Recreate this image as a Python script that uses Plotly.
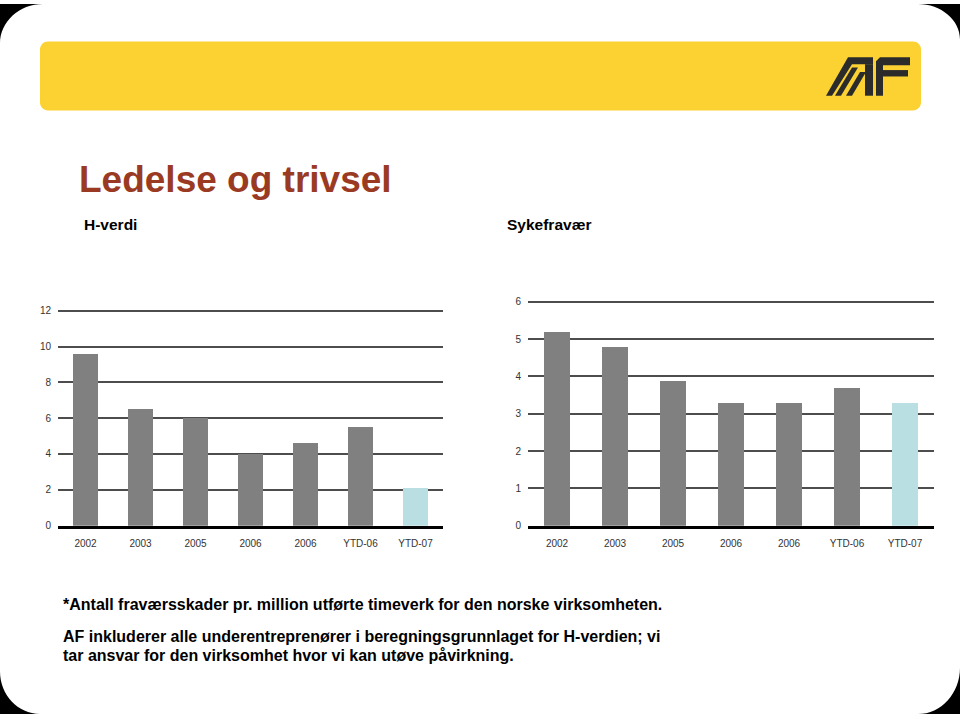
import plotly.graph_objects as go

# ---------------- data ----------------
categories = ["2002", "2003", "2005", "2006", "2006", "YTD-06", "YTD-07"]
h_verdi = [9.6, 6.5, 6.0, 4.0, 4.6, 5.5, 2.1]
sykefravaer = [5.2, 4.8, 3.9, 3.3, 3.3, 3.7, 3.3]
h_ticks = [0, 2, 4, 6, 8, 10, 12]
s_ticks = [0, 1, 2, 3, 4, 5, 6]

W, H = 960, 720
GRAY = "#808080"
BLUE = "#b9dfe3"
bar_colors = [GRAY] * (len(categories) - 1) + [BLUE]
positions = list(range(len(categories)))


def px(x):
    return x / W


def py(y):
    return 1 - y / H


def path(points):
    return "M " + " L ".join(f"{px(x):.5f},{py(y):.5f}" for x, y in points) + " Z"


fig = go.Figure()
fig.add_trace(go.Bar(x=positions, y=h_verdi, marker=dict(color=bar_colors, line=dict(width=0)),
                     width=0.46, xaxis="x", yaxis="y", hoverinfo="skip"))
fig.add_trace(go.Bar(x=positions, y=sykefravaer, marker=dict(color=bar_colors, line=dict(width=0)),
                     width=0.45, xaxis="x2", yaxis="y2", hoverinfo="skip"))

tickfont = dict(family="Liberation Sans, Arial, sans-serif", size=10, color="#333333")

# left chart geometry (pixels)
l_x0, l_x1, l_zero = 58, 443, 529
l_ppu = (529 - 311) / 12
l_top_val = 12.1
r_x0, r_x1, r_zero = 528, 934, 529
r_ppu = (529 - 302) / 6
r_top_val = 6.06

common_x = dict(range=[-0.5, 6.5], tickmode="array", tickvals=positions, ticktext=categories,
                showgrid=False, zeroline=False, showline=True, linecolor="#000000", linewidth=3,
                ticks="", tickfont=tickfont, ticklabelstandoff=6, fixedrange=True)
common_y = dict(showgrid=True, gridcolor="#4d4d4d", gridwidth=1.5, zeroline=False, showline=False,
                ticks="", tickfont=tickfont, ticklabelstandoff=6, tickmode="array", fixedrange=True)

fig.update_layout(
    width=W, height=H, margin=dict(l=0, r=0, t=0, b=0),
    paper_bgcolor="white", plot_bgcolor="white", showlegend=False, bargap=0,
    xaxis=dict(domain=[px(l_x0), px(l_x1)], anchor="y", **common_x),
    yaxis=dict(domain=[py(l_zero), py(l_zero - l_top_val * l_ppu)], anchor="x",
               range=[0, l_top_val], tickvals=h_ticks, **common_y),
    xaxis2=dict(domain=[px(r_x0), px(r_x1)], anchor="y2", **common_x),
    yaxis2=dict(domain=[py(r_zero), py(r_zero - r_top_val * r_ppu)], anchor="x2",
                range=[0, r_top_val], tickvals=s_ticks, **common_y),
)

shapes = []
# yellow banner with rounded corners
bx0, by0, bx1, by1, rr = 40, 38, 921, 108, 8
k = 0.55
banner = (f"M {px(bx0 + rr)},{py(by0)} L {px(bx1 - rr)},{py(by0)} "
          f"C {px(bx1 - rr + rr * k)},{py(by0)} {px(bx1)},{py(by0 + rr - rr * k)} {px(bx1)},{py(by0 + rr)} "
          f"L {px(bx1)},{py(by1 - rr)} "
          f"C {px(bx1)},{py(by1 - rr + rr * k)} {px(bx1 - rr + rr * k)},{py(by1)} {px(bx1 - rr)},{py(by1)} "
          f"L {px(bx0 + rr)},{py(by1)} "
          f"C {px(bx0 + rr - rr * k)},{py(by1)} {px(bx0)},{py(by1 - rr + rr * k)} {px(bx0)},{py(by1 - rr)} "
          f"L {px(bx0)},{py(by0 + rr)} "
          f"C {px(bx0)},{py(by0 + rr - rr * k)} {px(bx0 + rr - rr * k)},{py(by0)} {px(bx0 + rr)},{py(by0)} Z")
shapes.append(dict(type="path", xref="paper", yref="paper", path=banner,
                   fillcolor="#fcd232", line=dict(width=0), layer="below"))

# AF logo (approximate)
LOGO = "#2b2b2b"
logo_polys = [
    [(826, 93), (832, 93), (852, 61), (873, 61), (873, 54), (848, 54)],
    [(835, 93), (841, 93), (858, 64.5), (852, 64.5)],
    [(846, 93), (852, 93), (866, 69), (860, 69)],
    [(865, 93), (873, 93), (873, 61), (865, 61)],
    [(876, 93), (883, 93), (883, 62), (910, 62), (910, 54), (880, 54), (876, 58)],
    [(883, 67), (908, 67), (908, 73.5), (883, 73.5)],
]
for poly in logo_polys:
    shapes.append(dict(type="path", xref="paper", yref="paper", path=path(poly),
                       fillcolor=LOGO, line=dict(width=0)))


def corner(cx, cy, ex, ey):
    a = (cx + ex, cy)
    b = (cx, cy + ey)
    c1 = (cx + ex - ex * k, cy)
    c2 = (cx, cy + ey - ey * k)
    return (f"M {px(cx)},{py(cy)} L {px(a[0])},{py(a[1])} "
            f"C {px(c1[0])},{py(c1[1])} {px(c2[0])},{py(c2[1])} {px(b[0])},{py(b[1])} Z")


for cx, cy, ex, ey in [(0, 0, 43, 40), (960, 0, -42, 36), (0, 720, 40, -43), (960, 720, -42, -47)]:
    shapes.append(dict(type="path", xref="paper", yref="paper", path=corner(cx, cy, ex, ey),
                       fillcolor="#000000", line=dict(width=0)))

fig.update_layout(shapes=shapes)

FONT = "Liberation Sans, Arial, sans-serif"
texts = [
    ("Ledelse og trivsel", 77, 178, 37, "#9a3a22"),
    ("H-verdi", 82, 224, 15.5, "#000000"),
    ("Sykefravær", 505, 224, 15.5, "#000000"),
    ("*Antall fraværsskader pr. million utførte timeverk for den norske virksomheten.", 61, 609, 16, "#000000"),
    ("AF inkluderer alle underentreprenører i beregningsgrunnlaget for H-verdien; vi", 61, 641, 16, "#000000"),
    ("tar ansvar for den virksomhet hvor vi kan utøve påvirkning.", 61, 661, 16, "#000000"),
]
for t, x, y, s, c in texts:
    fig.add_annotation(text=f"<b>{t}</b>", x=px(x), y=py(y), xref="paper", yref="paper",
                       xanchor="left", yanchor="middle", showarrow=False,
                       font=dict(family=FONT, size=s, color=c))

fig.write_html("out.html")
